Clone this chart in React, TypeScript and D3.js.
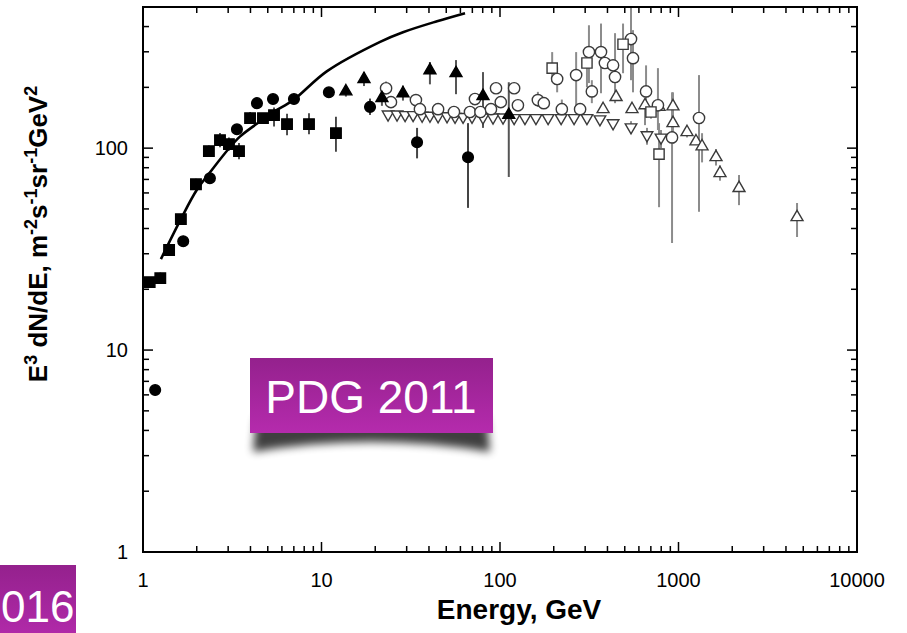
import React from "react";
import * as d3 from "d3";

const W = 907;
const H = 633;

// energies (GeV) and E^3 dN/dE values, [E, F, lo, hi]
const filledSquares: number[][] = [
  [1.09, 21.7, 20.9, 22.6],
  [1.25, 22.7, 21.4, 24.2],
  [1.4, 31.3, 29.6, 33],
  [1.63, 44.5, 42.3, 46.8],
  [1.98, 66.3, 62.5, 70.5],
  [2.34, 96.7, 91, 103],
  [2.7, 109.6, 101, 119],
  [3.03, 104.7, 97, 113],
  [3.45, 96.7, 88, 106],
  [3.98, 140.8, 132, 151],
  [4.7, 140.8, 133, 149],
  [5.42, 145.7, 128, 159],
  [6.41, 131.5, 116, 148],
  [8.51, 131.5, 117, 149],
  [12.05, 118.7, 96, 143],
];
const filledCircles: number[][] = [
  [1.17, 6.34],
  [1.68, 34.6],
  [2.37, 71.0],
  [3.36, 124],
  [4.35, 167],
  [5.35, 175],
  [7.01, 175],
  [11.0, 189],
  [18.7, 160, 146, 176],
  [34.3, 107, 89, 126],
  [66.2, 90.2, 50.6, 133],
];
const filledTriangles: number[][] = [
  [13.7, 191, 180, 202],
  [17.3, 220, 203, 238],
  [21.8, 177, 162, 193],
  [28.6, 187, 172, 204],
  [40.5, 243, 207, 267],
  [56.7, 235, 185, 273],
  [80.3, 181, 126, 238],
  [112, 146, 72, 212],
];
const openCircles: number[][] = [
  [23.0, 198, 184, 214],
  [24.5, 169],
  [33.8, 173],
  [35.6, 156],
  [45.0, 156],
  [55.2, 151],
  [67.9, 151],
  [72.4, 175],
  [77.7, 151],
  [89, 156],
  [95, 198],
  [101, 169],
  [120, 198],
  [126, 163],
  [163, 173, 160, 190],
  [176, 167],
  [209, 220, 189, 252],
  [222, 156, 140, 174],
  [267, 230, 154, 299],
  [281, 156],
  [315, 299, 210, 406],
  [327, 191, 167, 217],
  [368, 299, 187, 414],
  [387, 264],
  [430, 257],
  [441, 225, 167, 371],
  [542, 347, 217, 600],
  [556, 279, 189, 384],
  [658, 191, 141, 257],
  [767, 163, 123, 249],
  [920, 113, 33.9, 189],
  [1303, 141, 48.4, 230],
];
const openSquares: number[][] = [
  [196, 249, 212, 299],
  [307, 264, 200, 287],
  [489, 327, 235, 414],
  [701, 151, 140, 162],
  [778, 93.4, 51, 133],
];
const openUpTriangles: number[][] = [
  [378, 156],
  [447, 179],
  [549, 156],
  [649, 163, 130, 175],
  [778, 160],
  [931, 161, 105, 189],
  [931, 133],
  [1116, 120, 113, 127],
  [1253, 108],
  [1355, 102, 85, 118.6],
  [1622, 90.2, 82, 99],
  [1708, 75.2, 69, 82],
  [2183, 63.4, 52.2, 73.6],
  [4614, 45.5, 36.3, 53.5],
];
const openDownTriangles: number[][] = [
  [23.6, 147], [26.5, 147], [29.4, 146], [32.6, 146], [36.6, 145],
  [40.5, 145], [45.0, 144], [50.5, 144], [56.0, 143], [62.1, 143],
  [69.7, 143], [80.3, 142], [91.4, 142], [104, 142], [120, 141],
  [138, 141], [159, 141], [186, 141], [220, 141], [260, 141],
  [307, 141], [363, 139], [430, 133], [542, 127, 118, 136],
  [666, 116, 104, 126], [798, 113, 100, 123],
];
// fitted model curve
const curvePts: number[][] = [
  [1.26, 28.2], [1.63, 44.5], [2.0, 62], [2.43, 78], [3.07, 101],
  [3.49, 114], [4.34, 132], [5.37, 151], [6.95, 173], [10.7, 240],
  [21.3, 336], [28.6, 375], [44.4, 425], [63.7, 466],
];

const xMajor = [1, 10, 100, 1000, 10000];
const xLabels = ["1", "10", "100", "1000", "10000"];
const yMajor = [1, 10, 100];
const yLabels = ["1", "10", "100"];

const font = "'Liberation Sans', Arial, Helvetica, sans-serif";

export default function App() {
  const x = d3.scaleLog().domain([1, 10000]).range([143, 857]);
  const y = d3.scaleLog().domain([1, 500]).range([552, 7]);
  const [x0, x1] = x.range();
  const [y0, y1] = y.range();

  const sq = d3.symbol().type(d3.symbolSquare).size(110)()!;
  const circ = d3.symbol().type(d3.symbolCircle).size(90)()!;
  const ocirc = d3.symbol().type(d3.symbolCircle).size(100)()!;
  const tri = d3.symbol().type(d3.symbolTriangle).size(62)()!;
  const dtri = d3.symbol().type(d3.symbolTriangle).size(58)()!;
  const osq = d3.symbol().type(d3.symbolSquare).size(105)()!;

  const line = d3
    .line<number[]>()
    .x((d) => x(d[0]))
    .y((d) => y(d[1]))
    .curve(d3.curveCatmullRom);

  const bars = (data: number[][], color: string, w: number) =>
    data
      .filter((d) => d.length > 2)
      .map((d, i) => (
        <line
          key={i}
          x1={x(d[0])}
          x2={x(d[0])}
          y1={y(d[2])}
          y2={y(d[3])}
          stroke={color}
          strokeWidth={w}
        />
      ));

  const marks = (data: number[][], path: string, fill: string, stroke: string, rot = 0) =>
    data.map((d, i) => (
      <path
        key={i}
        d={path}
        transform={`translate(${x(d[0])},${y(d[1])}) rotate(${rot})`}
        fill={fill}
        stroke={stroke}
        strokeWidth={1.4}
      />
    ));

  const minorX = x.ticks();
  const minorY = y.ticks();
  const gray = "#8c8c8c";
  const mk = "#3a3a3a";

  return (
    <svg
      width={W}
      height={H}
      style={{ position: "absolute", left: 0, top: 0, background: "#fff" }}
      fontFamily={font}
    >
      <defs>
        <clipPath id="plot">
          <rect x={x0} y={y1} width={x1 - x0} height={y0 - y1} />
        </clipPath>
        <linearGradient id="pg" x1="0" y1="0" x2="0" y2="1">
          <stop offset="0" stopColor="#94218d" />
          <stop offset="1" stopColor="#b52bad" />
        </linearGradient>
        <filter id="blur" x="-20%" y="-50%" width="140%" height="200%">
          <feGaussianBlur stdDeviation="4" />
        </filter>
      </defs>

      {/* ticks */}
      <g stroke="#000" strokeWidth={1.5}>
        {minorX.map((t, i) => {
          const len = xMajor.includes(t) ? 10 : 6;
          return (
            <g key={i}>
              <line x1={x(t)} x2={x(t)} y1={y0} y2={y0 - len} />
              <line x1={x(t)} x2={x(t)} y1={y1} y2={y1 + len} />
            </g>
          );
        })}
        {minorY.map((t, i) => {
          const len = yMajor.includes(t) ? 10 : 6;
          return (
            <g key={i}>
              <line x1={x0} x2={x0 + len} y1={y(t)} y2={y(t)} />
              <line x1={x1} x2={x1 - len} y1={y(t)} y2={y(t)} />
            </g>
          );
        })}
      </g>

      <g clipPath="url(#plot)">
        {bars(openDownTriangles, gray, 2)}
        {bars(openUpTriangles, gray, 2)}
        {bars(openCircles, gray, 2)}
        {bars(openSquares, gray, 2)}
        {bars(filledSquares, "#222", 1.6)}
        {bars(filledCircles, "#444", 2)}
        {bars(filledTriangles, "#555", 2)}
        {marks(openDownTriangles, dtri, "#fff", mk, 180)}
        {marks(openUpTriangles, tri, "#fff", mk)}
        {marks(openCircles, ocirc, "#fff", mk)}
        {marks(openSquares, osq, "#fff", mk)}
        {marks(filledSquares, sq, "#000", "#000")}
        {marks(filledCircles, circ, "#000", "#000")}
        {marks(filledTriangles, tri, "#000", "#000")}
        <path d={line(curvePts)!} fill="none" stroke="#000" strokeWidth={2.6} />
      </g>

      <rect
        x={x0}
        y={y1}
        width={x1 - x0}
        height={y0 - y1}
        fill="none"
        stroke="#000"
        strokeWidth={2}
      />

      {/* tick labels */}
      {xMajor.map((t, i) => (
        <text
          key={i}
          x={x(t)}
          y={587}
          textAnchor="middle"
          fontSize={20}
          fill="#000"
        >
          {xLabels[i]}
        </text>
      ))}
      {yMajor.map((t, i) => (
        <text
          key={i}
          x={128}
          y={y(t) + 7}
          textAnchor="end"
          fontSize={20}
          fill="#000"
        >
          {yLabels[i]}
        </text>
      ))}

      <text x={519} y={619} textAnchor="middle" fontSize={28} fontWeight="bold">
        Energy, GeV
      </text>
      <text
        transform="translate(47,234) rotate(-90)"
        textAnchor="middle"
        fontSize={26}
        fontWeight="bold"
      >
        E<tspan dy={-10} fontSize={18}>3</tspan>
        <tspan dy={10}> dN/dE, m</tspan>
        <tspan dy={-10} fontSize={18}>-2</tspan>
        <tspan dy={10}>s</tspan>
        <tspan dy={-10} fontSize={18}>-1</tspan>
        <tspan dy={10}>sr</tspan>
        <tspan dy={-10} fontSize={18}>-1</tspan>
        <tspan dy={10}>GeV</tspan>
        <tspan dy={-10} fontSize={18}>2</tspan>
      </text>

      {/* PDG 2011 label */}
      <path
        d="M256 418 L487 418 L490 452 Q371 432 253 452 Z"
        fill="#000"
        opacity={0.75}
        filter="url(#blur)"
      />
      <rect x={250} y={358} width={243} height={75} fill="url(#pg)" />
      <text x={371} y={413} textAnchor="middle" fontSize={46} fill="#fff">
        PDG 2011
      </text>

      {/* label at the lower left, cut by the page edge */}
      <rect x={-10} y={565} width={86} height={80} fill="url(#pg)" />
      <text x={1} y={622} textAnchor="start" fontSize={44} fill="#fff">
        016
      </text>
    </svg>
  );
}
